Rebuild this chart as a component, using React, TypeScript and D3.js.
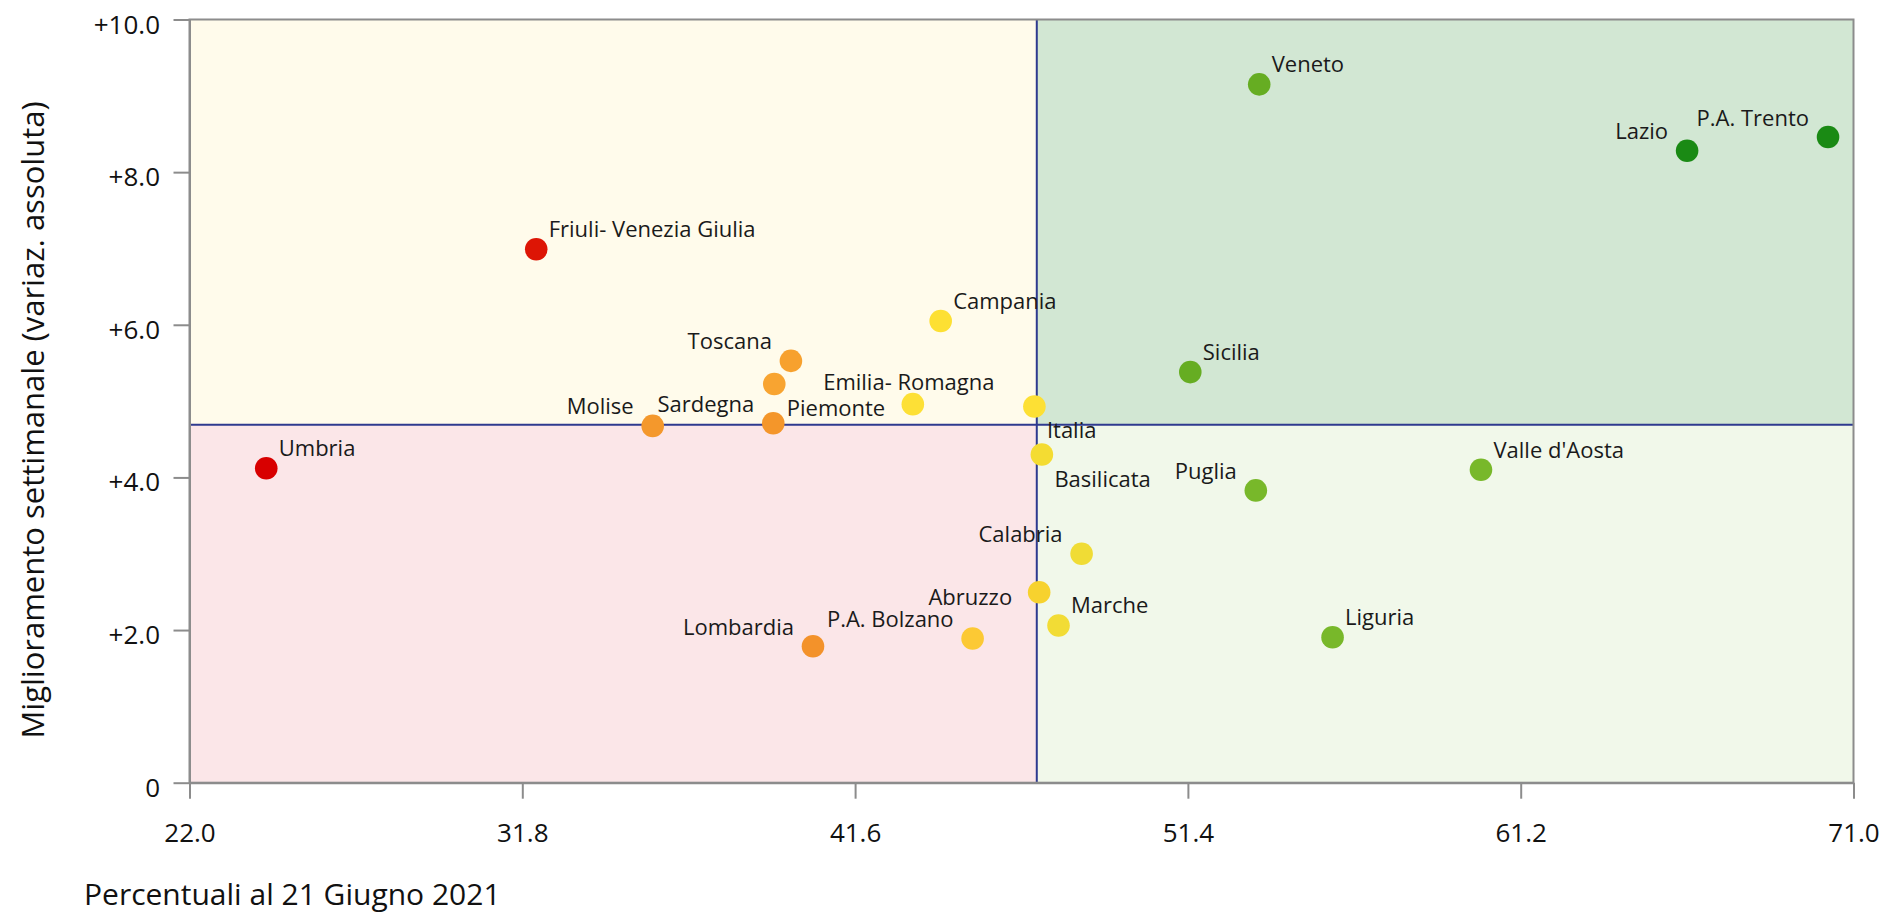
import React, { useEffect, useRef } from 'react'
import * as d3 from 'd3'

// Regions: name, % at 21 June 2021 (x), weekly improvement (y)
const regions = [
  'Umbria', 'Friuli- Venezia Giulia', 'Molise', 'Sardegna', 'Piemonte', 'Toscana',
  'Lombardia', 'Emilia- Romagna', 'Campania', 'P.A. Bolzano', 'Italia', 'Abruzzo',
  'Basilicata', 'Marche', 'Calabria', 'Sicilia', 'Puglia', 'Veneto', 'Liguria',
  "Valle d'Aosta", 'Lazio', 'P.A. Trento',
]
const percentValues = [
  24.26, 32.21, 35.64, 39.19, 39.22, 39.71, 40.36, 43.3, 44.12, 45.06, 46.88, 47.02,
  47.1, 47.59, 48.27, 51.47, 53.4, 53.5, 55.66, 60.03, 66.1, 70.25,
]
const improvementValues = [
  4.12, 6.99, 4.675, 4.71, 5.225, 5.527, 1.788, 4.96, 6.05, 1.89, 4.93, 2.495,
  4.3, 2.06, 3.0, 5.38, 3.83, 9.15, 1.906, 4.1, 8.28, 8.46,
]
const pointColors = [
  '#d80000', '#dd1505', '#f4982c', '#f4962a', '#f8a431', '#f7a12e', '#f3922a',
  '#fde036', '#fde033', '#fcc934', '#fde034', '#f7d22e', '#f4dc32', '#f2dc35',
  '#f0dc35', '#66ad22', '#78b82a', '#66ad22', '#78b82a', '#78b82a', '#1a8a14', '#1a8a14',
]
// label placement around each point
const labelSides = [
  'ur', 'ur', 'ul', 'ul', 'br', 'ul', 'ul', 'a', 'ur', 'ul', 'br', 'l',
  'br', 'ur', 'ul', 'ur', 'ul', 'ur', 'ur', 'ur', 'ul', 'ul',
]

const xTicks = [22.0, 31.8, 41.6, 51.4, 61.2, 71.0]
const yTicks = [0, 2, 4, 6, 8, 10]
const xDomain = [22, 71]
const yDomain = [0, 10]
const xReference = 46.95
const yReference = 4.69

const xTitle = 'Percentuali al 21 Giugno 2021'
const yTitle = 'Miglioramento settimanale (variaz. assoluta)'

const FONT = "'Segoe UI', 'Open Sans', 'Noto Sans', sans-serif"

export default function App() {
  const ref = useRef<SVGSVGElement | null>(null)

  useEffect(() => {
    if (!ref.current) return
    const width = 1885
    const height = 916
    const left = 189.5
    const right = 1853.5
    const top = 19.5
    const bottom = 782.7

    const x = d3.scaleLinear().domain(xDomain).range([left, right])
    const y = d3.scaleLinear().domain(yDomain).range([bottom, top])

    const svg = d3
      .select(ref.current)
      .attr('width', width)
      .attr('height', height)
      .style('font-family', FONT)

    // Quadrant backgrounds
    const quads = [
      { x0: xDomain[0], x1: xReference, y0: yReference, y1: yDomain[1], fill: '#fffbeb' },
      { x0: xReference, x1: xDomain[1], y0: yReference, y1: yDomain[1], fill: '#d2e7d3' },
      { x0: xDomain[0], x1: xReference, y0: yDomain[0], y1: yReference, fill: '#fbe6e8' },
      { x0: xReference, x1: xDomain[1], y0: yDomain[0], y1: yReference, fill: '#f1f8ea' },
    ]
    svg
      .append('g')
      .selectAll('rect')
      .data(quads)
      .join('rect')
      .attr('x', (d) => x(d.x0))
      .attr('y', (d) => y(d.y1))
      .attr('width', (d) => x(d.x1) - x(d.x0))
      .attr('height', (d) => y(d.y0) - y(d.y1))
      .attr('fill', (d) => d.fill)

    // Reference lines
    svg
      .append('line')
      .attr('x1', x(xReference))
      .attr('x2', x(xReference))
      .attr('y1', y(yDomain[0]))
      .attr('y2', y(yDomain[1]))
      .attr('stroke', '#2e3a8f')
      .attr('stroke-width', 2)
    svg
      .append('line')
      .attr('x1', x(xDomain[0]))
      .attr('x2', x(xDomain[1]))
      .attr('y1', y(yReference))
      .attr('y2', y(yReference))
      .attr('stroke', '#2e3a8f')
      .attr('stroke-width', 2)

    // Frame
    svg
      .append('rect')
      .attr('x', left)
      .attr('y', top)
      .attr('width', right - left)
      .attr('height', bottom - top)
      .attr('fill', 'none')
      .attr('stroke', '#8c8c8c')
      .attr('stroke-width', 2)

    // Axes
    const xAxis = svg
      .append('g')
      .attr('transform', `translate(0,${bottom})`)
      .call(
        d3
          .axisBottom(x)
          .tickValues(xTicks)
          .tickFormat((d) => (d as number).toFixed(1))
          .tickSize(16)
          .tickSizeOuter(0)
          .tickPadding(25),
      )
    const yAxis = svg
      .append('g')
      .attr('transform', `translate(${left},0)`)
      .call(
        d3
          .axisLeft(y)
          .tickValues(yTicks)
          .tickFormat((d) => ((d as number) === 0 ? '0' : '+' + (d as number).toFixed(1)))
          .tickSize(16)
          .tickSizeOuter(0)
          .tickPadding(13.5),
      )
    for (const ax of [xAxis, yAxis]) {
      ax.select('.domain').attr('stroke', '#8c8c8c').attr('stroke-width', 2)
      ax.selectAll('.tick line').attr('stroke', '#8c8c8c').attr('stroke-width', 2)
      ax.selectAll('.tick text')
        .attr('fill', '#111')
        .style('font-size', '26px')
        .style('font-family', FONT)
    }
    yAxis.selectAll('.tick text').attr('dy', '0.52em')

    // Axis titles
    svg
      .append('text')
      .attr('x', 84)
      .attr('y', 905)
      .attr('fill', '#111')
      .style('font-size', '30px')
      .text(xTitle)
    svg
      .append('text')
      .attr('transform', 'translate(44,420) rotate(-90)')
      .attr('text-anchor', 'middle')
      .attr('fill', '#111')
      .style('font-size', '31px')
      .text(yTitle)

    // Points
    const data = regions.map((name, i) => ({
      name,
      px: percentValues[i],
      py: improvementValues[i],
      color: pointColors[i],
      side: labelSides[i],
    }))

    svg
      .append('g')
      .selectAll('circle')
      .data(data)
      .join('circle')
      .attr('cx', (d) => x(d.px))
      .attr('cy', (d) => y(d.py))
      .attr('r', 11.3)
      .attr('fill', (d) => d.color)

    const place: Record<string, { dx: number; dy: number; anchor: string }> = {
      ur: { dx: 12.5, dy: -12, anchor: 'start' },
      ul: { dx: -19, dy: -11.5, anchor: 'end' },
      br: { dx: 12.5, dy: 32, anchor: 'start' },
      a: { dx: -4, dy: -14, anchor: 'middle' },
      l: { dx: -27, dy: 12.5, anchor: 'end' },
    }

    svg
      .append('g')
      .selectAll('text')
      .data(data)
      .join('text')
      .attr('x', (d) => x(d.px) + place[d.side].dx)
      .attr('y', (d) => y(d.py) + place[d.side].dy)
      .attr('text-anchor', (d) => place[d.side].anchor)
      .attr('fill', '#1a1a1a')
      .style('font-size', '22px')
      .text((d) => d.name)

    return () => {
      svg.selectAll('*').remove()
    }
  }, [])

  return (
    <svg ref={ref} style={{ position: 'absolute', left: 0, top: 0, display: 'block' }} />
  )
}
